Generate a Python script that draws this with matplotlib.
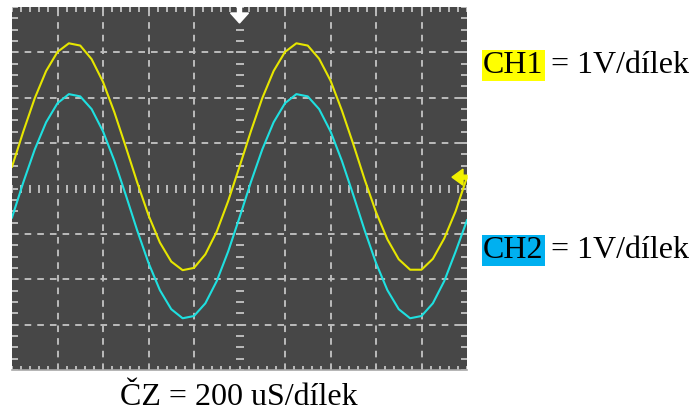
import numpy as np
import matplotlib.pyplot as plt

# oscillogram readings in divisions (dílky), one point every 0.25 div of time
ch1 = [0.48, 1.26, 1.99, 2.59, 3.01, 3.20, 3.15, 2.85, 2.35, 1.68,
       0.92, 0.14, -0.59, -1.19, -1.61, -1.80, -1.75, -1.45, -0.95, -0.28,
       0.48, 1.26, 1.99, 2.59, 3.01, 3.20, 3.15, 2.86, 2.38, 1.72,
       0.98, 0.20, -0.52, -1.12, -1.56, -1.79, -1.79, -1.55, -1.10, -0.50,
       0.25]
ch2 = [-0.64, 0.14, 0.86, 1.46, 1.88, 2.08, 2.03, 1.75, 1.26, 0.61,
       -0.14, -0.92, -1.64, -2.24, -2.66, -2.86, -2.81, -2.53, -2.04, -1.39,
       -0.64, 0.14, 0.86, 1.46, 1.88, 2.08, 2.03, 1.75, 1.26, 0.61,
       -0.14, -0.92, -1.64, -2.24, -2.66, -2.86, -2.81, -2.53, -2.04, -1.39,
       -0.70]

trigger_time = 5.0    # white arrow on the top edge
trigger_level = 0.25  # yellow arrow on the right edge

ch_labels = ["CH1", "CH2"]
ch_scale = "= 1V/dílek"
time_scale = "ČZ = 200 uS/dílek"

bg = "#474747"
grid_col = "#bcbcbc"
col1 = "#e6e600"
col2 = "#1fe0e0"

fig = plt.figure(figsize=(6.92, 4.12), dpi=100)
ax = fig.add_axes([12 / 692, 42 / 412, 455 / 692, 363 / 412])
ax.set_facecolor(bg)
ax.set_xlim(0, 10)
ax.set_ylim(-4, 4)
ax.set_xticks([])
ax.set_yticks([])
for s in ax.spines.values():
    s.set_visible(False)

px = 10 / 455  # one pixel in divisions
py = 8 / 363

# dashed graticule
dash = (0, (3.4, 3.1))
for x in range(1, 10):
    if x != 5:
        ax.axvline(x, color=grid_col, lw=1.4, ls=dash, zorder=1)
for y in range(-3, 4):
    if y != 0:
        ax.axhline(y, color=grid_col, lw=1.4, ls=dash, zorder=1)

# minor ticks on the centre lines and on the edges
xs = np.arange(0, 10.001, 0.2)
ys = np.arange(-4, 4.001, 0.25)
tick = dict(color=grid_col, lw=1.4, zorder=2)
ax.vlines(xs, -4 * py, 4 * py, **tick)
ax.hlines(ys, trigger_time - 4 * px, trigger_time + 4 * px, **tick)
ax.vlines(xs, 4 - 5 * py, 4, **tick)
ax.vlines(xs, -4, -4 + 4 * py, **tick)
ax.hlines(ys, 0, 6 * px, **tick)
ax.hlines(ys, 10 - 6 * px, 10, **tick)
ax.plot([0, 10], [-4, -4], color="#a8a8a8", lw=1.2, clip_on=False, zorder=2)

# traces
t = np.linspace(0, 10, len(ch1))
ax.plot(t, ch1, color=col1, lw=1.5, zorder=5)
ax.plot(t, ch2, color=col2, lw=1.5, zorder=5)

# trigger markers
tx = trigger_time
ax.fill([tx - 2 * px, tx + 2 * px, tx + 2 * px, tx + 9 * px, tx, tx - 9 * px, tx - 2 * px],
        [4, 4, 4 - 6 * py, 4 - 6 * py, 4 - 16 * py, 4 - 6 * py, 4 - 6 * py],
        color="white", zorder=6, clip_on=False)
L = trigger_level
ax.fill([10 - 15 * px, 10 - 4 * px, 10 - 4 * px, 10, 10, 10 - 4 * px, 10 - 4 * px],
        [L, L + 8 * py, L + 2 * py, L + 2 * py, L - 2 * py, L - 2 * py, L - 8 * py],
        color="#f0f000", zorder=6, clip_on=False)

# labels
font = dict(family="Liberation Serif", size=23)
for lab, hl, base in zip(ch_labels, ["#ffff00", "#00b0f0"], [73, 258]):
    fig.text(483 / 692, 1 - base / 412, lab, va="baseline", ha="left",
             bbox=dict(facecolor=hl, edgecolor="none", pad=1), **font)
    fig.text(551 / 692, 1 - base / 412, ch_scale, va="baseline", ha="left", **font)
fig.text(239 / 692, 1 - 405 / 412, time_scale, va="baseline", ha="center", **font)

fig.savefig("out.png", dpi=100, facecolor="white")
